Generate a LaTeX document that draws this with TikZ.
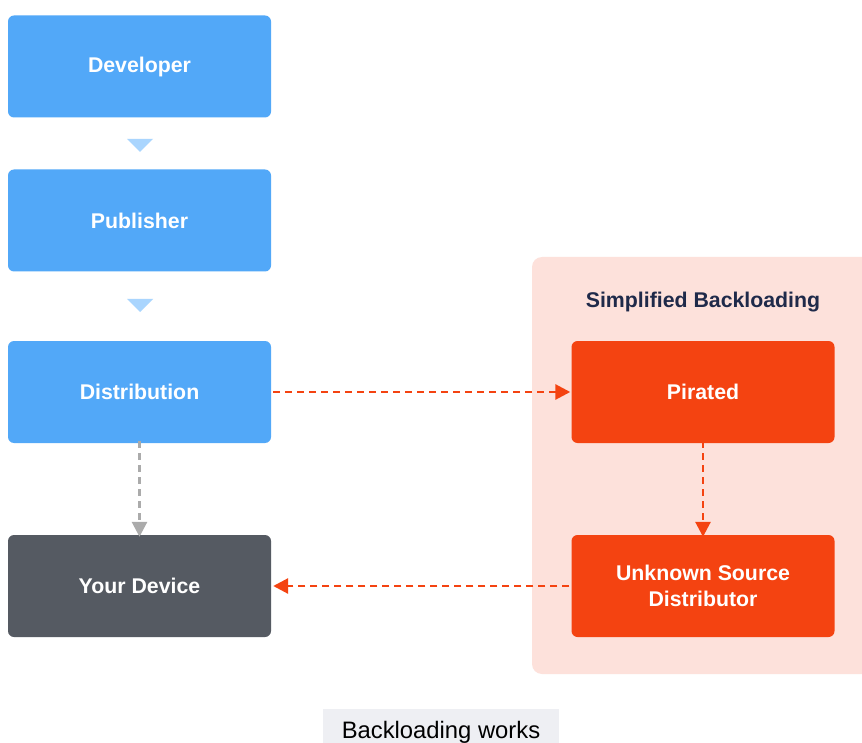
\documentclass[tikz,border=0pt]{standalone}
\usepackage{fontspec}
\setmainfont{Liberation Sans}
\usetikzlibrary{arrows.meta}
\definecolor{bluebox}{HTML}{52A8F8}
\definecolor{tri}{HTML}{A9D5FE}
\definecolor{darkbox}{HTML}{555A62}
\definecolor{orangebox}{HTML}{F44311}
\definecolor{pinkbg}{HTML}{FDE1DB}
\definecolor{navy}{HTML}{1F2A4A}
\definecolor{capbg}{HTML}{EEEFF3}
\definecolor{grayarrow}{HTML}{ABABAB}
\tikzset{
  box/.style={rounded corners=6pt, minimum width=263pt, minimum height=102pt, inner sep=0pt,
    text=white, font=\fontsize{21.3}{25}\selectfont\bfseries, align=center},
  bluestep/.style={box, fill=bluebox},
  darkstep/.style={box, fill=darkbox},
  orangestep/.style={box, fill=orangebox},
  link/.style={line width=2.8pt, dash pattern=on 7pt off 5pt, -{Triangle[length=15pt,width=15pt]}},
  orangelink/.style={link, draw=orangebox},
  graylink/.style={link, draw=grayarrow},
  tri/.style={fill=tri, draw=none}
}
\begin{document}
\begin{tikzpicture}[x=1pt,y=-1pt]
\useasboundingbox (0,0) rectangle (862,743);
\fill[white] (0,0) rectangle (862,743);
% pink region
\fill[pinkbg, rounded corners=10pt] (532,257) rectangle (880,674);
\node[text=navy, font=\fontsize{21.3}{25}\selectfont\bfseries] (title) at (703,302) {Simplified Backloading};
% boxes
\node[bluestep] (dev) at (139.5,66.5) {Developer};
\node[bluestep] (pub) at (139.5,220.5) {Publisher};
\node[bluestep] (dist) at (139.5,392) {Distribution};
\node[darkstep] (dev2) at (139.5,586) {Your Device};
\node[orangestep] (pir) at (703,392) {Pirated};
\node[orangestep] (unk) at (703,586) {Unknown Source\\[1pt]Distributor};
% triangles
\fill[tri] (127,139) -- (153,139) -- (140,152) -- cycle;
\fill[tri] (127,299) -- (153,299) -- (140,312) -- cycle;
% connectors
\draw[orangelink] ([xshift=2pt]dist.east) -- ([xshift=-1pt]pir.west);
\draw[graylink] ([yshift=2pt]dist.south) -- ([yshift=-2pt]dev2.north);
\draw[orangelink] ([yshift=2pt]pir.south) -- ([yshift=-2pt]unk.north);
\draw[orangelink] ([xshift=-2pt]unk.west) -- ([xshift=2pt]dev2.east);
% caption
\node[fill=capbg, minimum width=236pt, minimum height=40pt, anchor=north, inner sep=0pt] (cap) at (441,709) {};
\node[font=\fontsize{23.8}{27}\selectfont, text=black, anchor=base] (captext) at (441,738) {Backloading works};
\end{tikzpicture}
\end{document}
